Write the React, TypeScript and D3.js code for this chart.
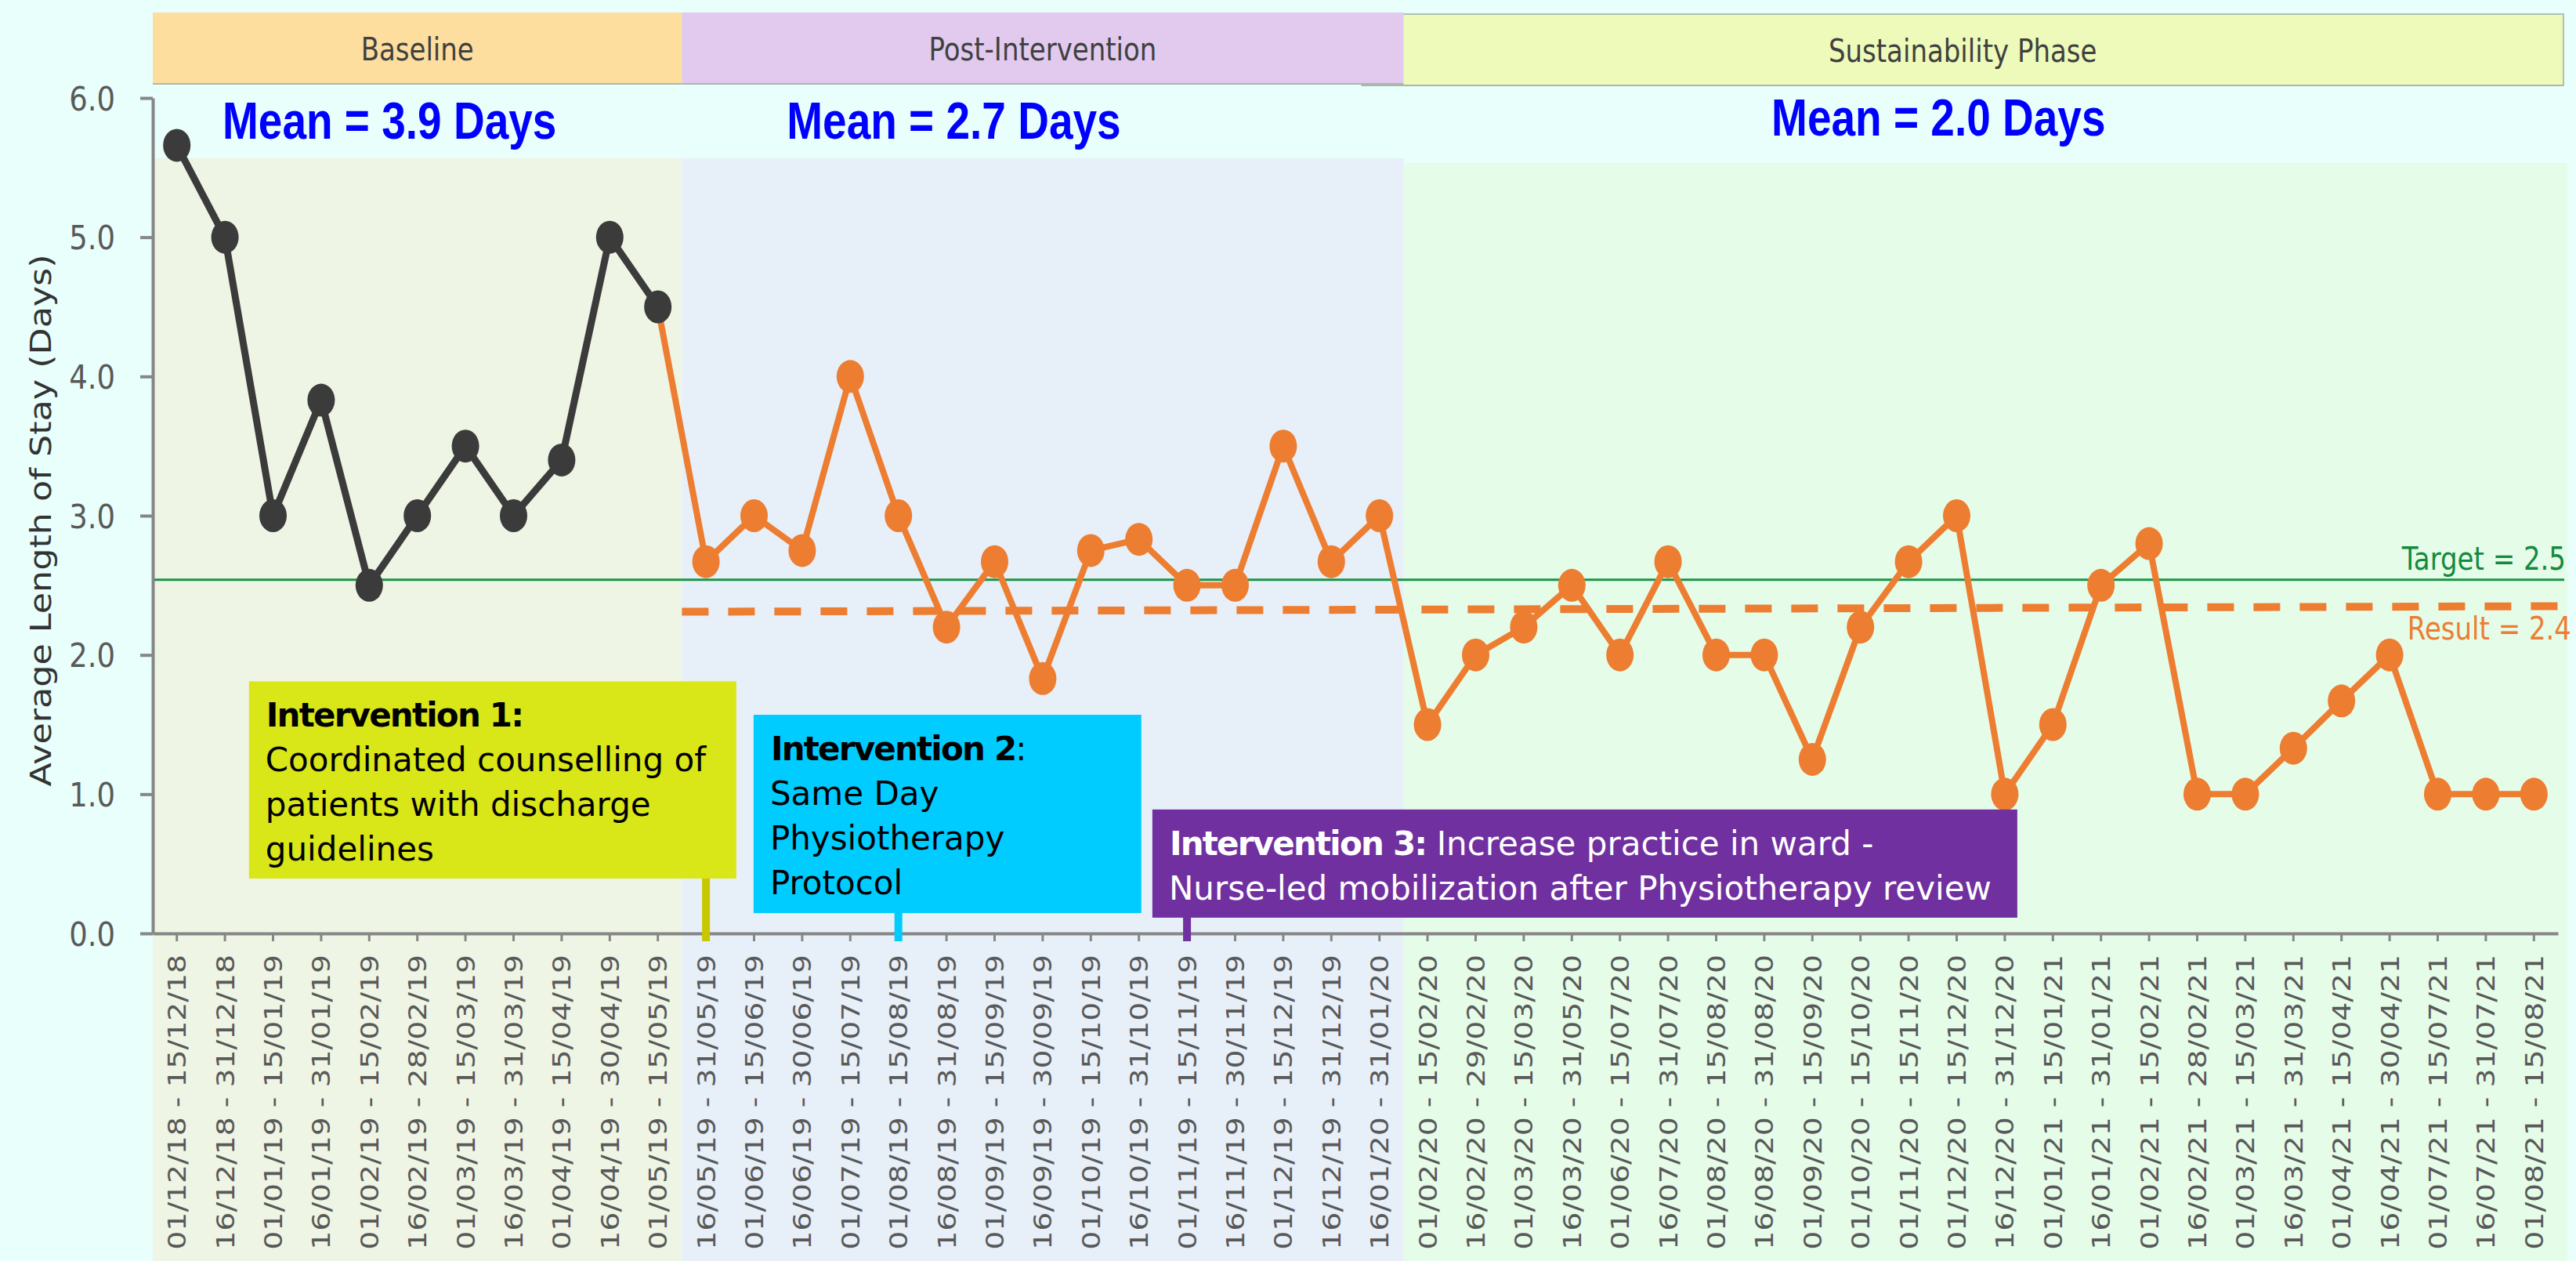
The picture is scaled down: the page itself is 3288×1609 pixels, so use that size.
import React, { useRef, useEffect } from 'react';
import * as d3 from 'd3';

const W = 3288;
const H = 1609;

// fortnightly reporting periods
const periods = [
  '01/12/18 - 15/12/18', '16/12/18 - 31/12/18', '01/01/19 - 15/01/19', '16/01/19 - 31/01/19',
  '01/02/19 - 15/02/19', '16/02/19 - 28/02/19', '01/03/19 - 15/03/19', '16/03/19 - 31/03/19',
  '01/04/19 - 15/04/19', '16/04/19 - 30/04/19', '01/05/19 - 15/05/19',
  '16/05/19 - 31/05/19', '01/06/19 - 15/06/19', '16/06/19 - 30/06/19', '01/07/19 - 15/07/19',
  '01/08/19 - 15/08/19', '16/08/19 - 31/08/19', '01/09/19 - 15/09/19', '16/09/19 - 30/09/19',
  '01/10/19 - 15/10/19', '16/10/19 - 31/10/19', '01/11/19 - 15/11/19', '16/11/19 - 30/11/19',
  '01/12/19 - 15/12/19', '16/12/19 - 31/12/19', '16/01/20 - 31/01/20',
  '01/02/20 - 15/02/20', '16/02/20 - 29/02/20', '01/03/20 - 15/03/20', '16/03/20 - 31/05/20',
  '01/06/20 - 15/07/20', '16/07/20 - 31/07/20', '01/08/20 - 15/08/20', '16/08/20 - 31/08/20',
  '01/09/20 - 15/09/20', '01/10/20 - 15/10/20', '01/11/20 - 15/11/20', '01/12/20 - 15/12/20',
  '16/12/20 - 31/12/20', '01/01/21 - 15/01/21', '16/01/21 - 31/01/21', '01/02/21 - 15/02/21',
  '16/02/21 - 28/02/21', '01/03/21 - 15/03/21', '16/03/21 - 31/03/21', '01/04/21 - 15/04/21',
  '16/04/21 - 30/04/21', '01/07/21 - 15/07/21', '16/07/21 - 31/07/21', '01/08/21 - 15/08/21',
];

// average length of stay (days) per period
const avgStay = [
  5.66, 5.0, 3.0, 3.83, 2.5, 3.0, 3.5, 3.0, 3.4, 5.0, 4.5,
  2.67, 3.0, 2.75, 4.0, 3.0, 2.2, 2.67, 1.83, 2.75, 2.83, 2.5, 2.5, 3.5, 2.67, 3.0,
  1.5, 2.0, 2.2, 2.5, 2.0, 2.67, 2.0, 2.0, 1.25, 2.2, 2.67, 3.0, 1.0, 1.5, 2.5, 2.8,
  1.0, 1.0, 1.33, 1.67, 2.0, 1.0, 1.0, 1.0,
];

const phaseNames = ['Baseline', 'Post-Intervention', 'Sustainability Phase'];
const phaseStart = [0, 11, 26];
const phaseEnd = [11, 26, 50];
const phaseMeans = ['Mean = 3.9 Days', 'Mean = 2.7 Days', 'Mean = 2.0 Days'];

const targetLabel = 'Target = 2.5';
const targetValue = 2.54;
const resultLabel = 'Result = 2.4';
const resultValues = [2.31, 2.35];

const yTicks = [0, 1, 2, 3, 4, 5, 6];

const interventionHeads = [
  ['Intervention 1:', ''],
  ['Intervention 2', ':'],
  ['Intervention 3:', ' Increase practice in ward -'],
];
const interventionBody = [
  ['Coordinated counselling of', 'patients with discharge', 'guidelines'],
  ['Same Day', 'Physiotherapy', 'Protocol'],
  ['Nurse-led mobilization after Physiotherapy review'],
];
// period in which each intervention started
const interventionPeriod = [11, 15, 21];

// ---- layout / style (not data) ----
const plotLeft = 195;
const plotRight = 3265;
const plotTop = 125;
const plotBottom = 1191;
const pageBg = '#E8FFFC';
const headerFill = ['#FDDE9E', '#E1CAEE', '#EDFAB9'];
const bandFill = ['#EEF5E4', '#E7EFF8', '#E5FCE8'];
const bandTop = [202, 202, 208];
const meanOffset = [1.45, 13.18, 33.65]; // in period units
const boxFill = ['#D9E617', '#00CCFF', '#7030A0'];
const stemFill = ['#C9C700', '#00CCFF', '#7030A0'];
const boxText = ['#000000', '#000000', '#FFFFFF'];
// box extents: period units for x, value units for y
const boxX0 = [2.0, 12.49, 20.78];
const boxX1 = [12.13, 20.55, 38.76];
const boxYTop = [1.81, 1.57, 0.89];
const boxYBot = [0.394, 0.146, 0.113];

const SANS = "'DejaVu Sans', Verdana, sans-serif";
const DARK = '#3B3B3B';
const ORANGE = '#ED7D31';

const App: React.FC = () => {
  const svgRef = useRef<SVGSVGElement>(null);

  useEffect(() => {
    if (!svgRef.current) return;
    const svg = d3.select(svgRef.current);
    svg.selectAll('*').remove();

    const x = d3.scaleBand<string>().domain(periods).range([plotLeft, plotRight]);
    const xu = d3.scaleLinear().domain([0, periods.length]).range([plotLeft, plotRight]);
    const y = d3.scaleLinear().domain([0, 6]).range([plotBottom, plotTop]);
    const cx = (i: number) => (x(periods[i]) as number) + x.bandwidth() / 2;

    // page background
    svg.append('rect').attr('width', W).attr('height', H).attr('fill', pageBg);

    // phase bands
    phaseNames.forEach((_, p) => {
      const x0 = xu(phaseStart[p]);
      const x1 = p === 2 ? xu(phaseEnd[p]) + 12 : xu(phaseEnd[p]);
      svg.append('rect')
        .attr('x', x0).attr('y', bandTop[p])
        .attr('width', x1 - x0).attr('height', H - bandTop[p])
        .attr('fill', bandFill[p]);
    });

    // phase header boxes (sustainability first so post overlaps it)
    [2, 0, 1].forEach(p => {
      const x0 = p === 2 ? xu(phaseStart[p]) - 53 : xu(phaseStart[p]);
      const x1 = p === 2 ? xu(phaseEnd[p]) + 7 : xu(phaseEnd[p]);
      const top = p === 2 ? 18 : 16;
      const g = svg.append('g');
      g.append('rect')
        .attr('x', x0).attr('y', top)
        .attr('width', x1 - x0).attr('height', 91)
        .attr('fill', headerFill[p])
        .attr('stroke', p === 2 ? '#AFC2AE' : 'none')
        .attr('stroke-width', 2);
      g.append('line')
        .attr('x1', x0).attr('x2', x1)
        .attr('y1', top + 91).attr('y2', top + 91)
        .attr('stroke', '#AAB7AA').attr('stroke-width', 2);
      g.append('text')
        .attr('transform', `translate(${(x0 + x1) / 2},${top + 61}) scale(1,1.2)`)
        .attr('text-anchor', 'middle')
        .attr('font-family', SANS)
        .attr('font-size', 34)
        .attr('fill', '#404040')
        .text(phaseNames[p]);
    });

    // phase means
    phaseMeans.forEach((m, p) => {
      svg.append('text')
        .attr('transform', `translate(${xu(meanOffset[p])},${p === 2 ? 173 : 177}) scale(1,1.2)`)
        .attr('font-family', "'Liberation Sans', Arial, sans-serif")
        .attr('font-weight', 'bold')
        .attr('font-size', 55)
        .attr('fill', '#0000FF')
        .text(m);
    });

    // target line
    svg.append('line')
      .attr('x1', plotLeft).attr('x2', plotRight + 8)
      .attr('y1', y(targetValue)).attr('y2', y(targetValue))
      .attr('stroke', '#1A9447').attr('stroke-width', 3);
    svg.append('text')
      .attr('transform', `translate(${plotRight + 10},${y(targetValue) - 13}) scale(1,1.2)`)
      .attr('text-anchor', 'end')
      .attr('font-family', SANS)
      .attr('font-size', 34)
      .attr('fill', '#138A3E')
      .text(targetLabel);

    // result (dashed) line over post-intervention periods
    svg.append('line')
      .attr('x1', xu(phaseStart[1])).attr('x2', plotRight + 8)
      .attr('y1', y(resultValues[0])).attr('y2', y(resultValues[1]))
      .attr('stroke', ORANGE).attr('stroke-width', 10)
      .attr('stroke-dasharray', '34 25');
    svg.append('text')
      .attr('transform', `translate(${plotRight + 17},${y(resultValues[1]) + 43}) scale(1,1.2)`)
      .attr('text-anchor', 'end')
      .attr('font-family', SANS)
      .attr('font-size', 34)
      .attr('fill', ORANGE)
      .text(resultLabel);

    // y axis
    const yAxis = svg.append('g')
      .attr('transform', `translate(${plotLeft},0)`)
      .call(d3.axisLeft(y).tickValues(yTicks).tickSize(16).tickSizeOuter(0).tickFormat(d3.format('.1f')));
    yAxis.select('.domain').attr('stroke', '#868686').attr('stroke-width', 4);
    yAxis.selectAll('.tick line').attr('stroke', '#868686').attr('stroke-width', 4);
    yAxis.selectAll('.tick text')
      .attr('x', null).attr('dy', null)
      .attr('transform', 'translate(-48,0) scale(1,1.15)')
      .attr('dy', '0.36em')
      .attr('font-family', SANS)
      .attr('font-size', 37)
      .attr('fill', '#595959');

    // x axis
    const xAxis = svg.append('g')
      .attr('transform', `translate(0,${plotBottom})`)
      .call(d3.axisBottom(x).tickSize(10).tickSizeOuter(0));
    xAxis.select('.domain').attr('stroke', '#868686').attr('stroke-width', 4);
    xAxis.selectAll('.tick line').attr('stroke', '#868686').attr('stroke-width', 3);
    xAxis.selectAll('.tick text')
      .attr('y', 0).attr('dy', '0.36em')
      .attr('transform', 'translate(0,27) scale(1,1.18) rotate(-90)')
      .attr('text-anchor', 'end')
      .attr('font-family', SANS)
      .attr('font-size', 32)
      .attr('fill', '#595959');

    // y axis title
    svg.append('text')
      .attr('transform', `translate(52,664) scale(1,1.2) rotate(-90)`)
      .attr('text-anchor', 'middle')
      .attr('dy', '0.35em')
      .attr('font-family', SANS)
      .attr('font-size', 37)
      .attr('fill', '#333333')
      .text('Average Length of Stay (Days)');

    // series lines
    const line = d3.line<number>().x(i => cx(i)).y(i => y(avgStay[i]));
    const postIdx = d3.range(phaseStart[1] - 1, periods.length);
    const baseIdx = d3.range(0, phaseEnd[0]);
    svg.append('path').datum(postIdx)
      .attr('d', line).attr('fill', 'none')
      .attr('stroke', ORANGE).attr('stroke-width', 8).attr('stroke-linejoin', 'round');
    svg.append('path').datum(baseIdx)
      .attr('d', line).attr('fill', 'none')
      .attr('stroke', DARK).attr('stroke-width', 9).attr('stroke-linejoin', 'round');

    // markers
    svg.append('g').selectAll('ellipse')
      .data(d3.range(periods.length))
      .join('ellipse')
      .attr('cx', i => cx(i))
      .attr('cy', i => y(avgStay[i]))
      .attr('rx', 17.5).attr('ry', 21)
      .attr('fill', i => (i < phaseEnd[0] ? DARK : ORANGE));

    // intervention call-outs
    interventionHeads.forEach((head, k) => {
      const bx0 = xu(boxX0[k]);
      const bx1 = xu(boxX1[k]);
      const by0 = y(boxYTop[k]);
      const by1 = y(boxYBot[k]);
      const sx = cx(interventionPeriod[k]);
      svg.append('line')
        .attr('x1', sx).attr('x2', sx)
        .attr('y1', by1 - 2).attr('y2', plotBottom + 10)
        .attr('stroke', stemFill[k]).attr('stroke-width', 10);
      svg.append('rect')
        .attr('x', bx0).attr('y', by0)
        .attr('width', bx1 - bx0).attr('height', by1 - by0)
        .attr('fill', boxFill[k]);
      const t = svg.append('text')
        .attr('x', bx0 + 22).attr('y', by0 + 58)
        .attr('font-family', SANS)
        .attr('font-size', 42)
        .attr('fill', boxText[k]);
      t.append('tspan').attr('font-weight', 'bold').attr('letter-spacing', -1.8).text(head[0]);
      if (head[1]) t.append('tspan').text(head[1]);
      interventionBody[k].forEach((ln, j) => {
        svg.append('text')
          .attr('x', bx0 + 21).attr('y', by0 + 58 + 57 * (j + 1))
          .attr('font-family', SANS)
          .attr('font-size', 42)
          .attr('fill', boxText[k])
          .text(ln);
      });
    });
  }, []);

  return (
    <div style={{ position: 'absolute', left: 0, top: 0 }}>
      <svg ref={svgRef} width={W} height={H} style={{ display: 'block' }} />
    </div>
  );
};

export default App;
